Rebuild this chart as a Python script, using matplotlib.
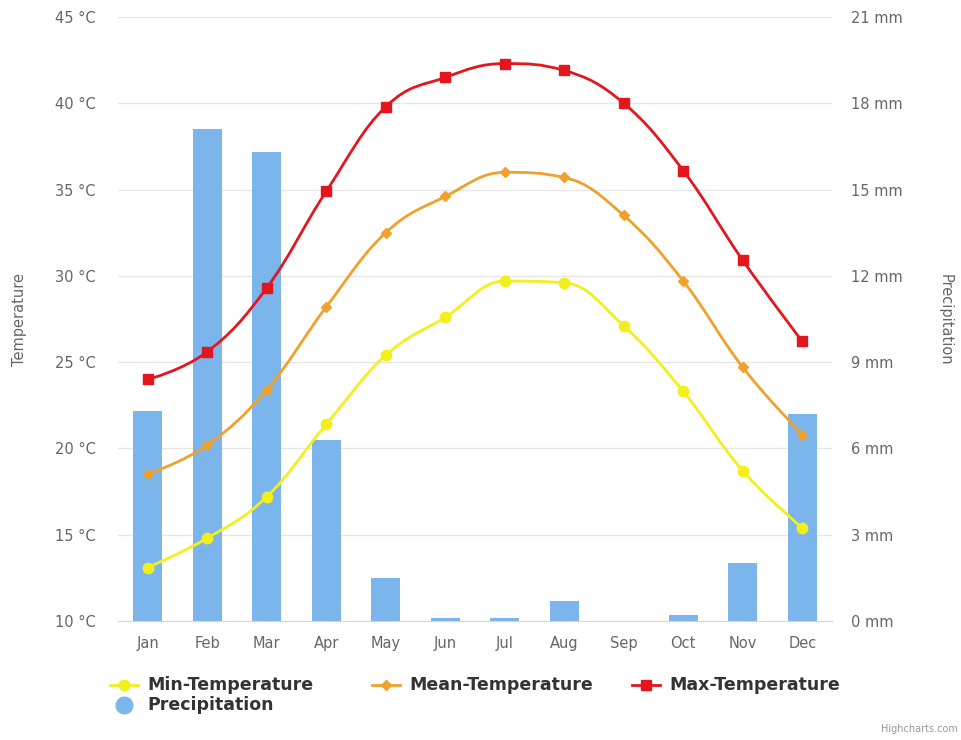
import numpy as np
from matplotlib import pyplot as plt
from matplotlib.path import Path
from matplotlib.patches import PathPatch
from matplotlib.lines import Line2D

months = ['Jan', 'Feb', 'Mar', 'Apr', 'May', 'Jun', 'Jul', 'Aug', 'Sep', 'Oct', 'Nov', 'Dec']
min_temp = [13.1, 14.8, 17.2, 21.4, 25.4, 27.6, 29.7, 29.6, 27.1, 23.3, 18.7, 15.4]
mean_temp = [18.5, 20.2, 23.4, 28.2, 32.5, 34.6, 36.0, 35.7, 33.5, 29.7, 24.7, 20.8]
max_temp = [24.0, 25.6, 29.3, 34.9, 39.8, 41.5, 42.3, 41.9, 40.0, 36.1, 30.9, 26.2]
precip = [7.3, 17.1, 16.3, 6.3, 1.5, 0.1, 0.1, 0.7, 0.0, 0.2, 2.0, 7.2]

temp_ticks = [10, 15, 20, 25, 30, 35, 40, 45]
precip_ticks = [0, 3, 6, 9, 12, 15, 18, 21]

LABEL = '#666666'
W, H = 961, 740


def spline_path(xs, ys, smoothing=1.5):
    # highcharts-style spline drawn with cubic bezier segments
    n = len(xs)
    lc = [None] * n
    rc = [None] * n
    for i in range(1, n - 1):
        px, py = xs[i], ys[i]
        lx, ly = xs[i - 1], ys[i - 1]
        nx, ny = xs[i + 1], ys[i + 1]
        d = smoothing + 1
        lcx = (smoothing * px + lx) / d
        lcy = (smoothing * py + ly) / d
        rcx = (smoothing * px + nx) / d
        rcy = (smoothing * py + ny) / d
        if rcx != lcx:
            corr = ((rcy - lcy) * (rcx - px)) / (rcx - lcx) + py - rcy
            lcy += corr
            rcy += corr
        if lcy > ly and lcy > py:
            lcy = max(ly, py)
            rcy = 2 * py - lcy
        elif lcy < ly and lcy < py:
            lcy = min(ly, py)
            rcy = 2 * py - lcy
        if rcy > ny and rcy > py:
            rcy = max(ny, py)
            lcy = 2 * py - rcy
        elif rcy < ny and rcy < py:
            rcy = min(ny, py)
            lcy = 2 * py - rcy
        lc[i] = (lcx, lcy)
        rc[i] = (rcx, rcy)
    verts = [(xs[0], ys[0])]
    codes = [Path.MOVETO]
    for i in range(1, n):
        c1 = rc[i - 1] if rc[i - 1] is not None else (xs[i - 1], ys[i - 1])
        c2 = lc[i] if lc[i] is not None else (xs[i], ys[i])
        verts += [c1, c2, (xs[i], ys[i])]
        codes += [Path.CURVE4] * 3
    return Path(verts, codes)


fig = plt.figure(figsize=(W / 100, H / 100), dpi=100)
ax = fig.add_axes([118 / W, 1 - 621 / H, 714 / W, 604 / H])
ax2 = ax.twinx()

x = np.arange(len(months))

# precipitation bars on right axis
ax2.bar(x, precip, width=0.49, color='#7cb5ec', zorder=2)
ax2.set_ylim(0, 21)
ax2.set_yticks(precip_ticks)
ax2.set_yticklabels([f'{t} mm' for t in precip_ticks])

# temperature lines on left axis, above the bars
ax.set_zorder(ax2.get_zorder() + 1)
ax.patch.set_visible(False)
ax.set_ylim(10, 45)
ax.set_xlim(-0.5, 11.5)
ax.set_yticks(temp_ticks)
ax.set_yticklabels([f'{t} °C' for t in temp_ticks])
ax.set_xticks(x)
ax.set_xticklabels(months)

for t in temp_ticks[1:]:
    ax2.axhline((t - 10) * 0.6, color='#e6e6e6', lw=1, zorder=0)

MIN_C, MEAN_C, MAX_C, BAR_C = '#f2ef1c', '#efa12b', '#e3161e', '#7cb5ec'
series = [
    (min_temp, MIN_C, 'o', 7.5),
    (mean_temp, MEAN_C, 'D', 5),
    (max_temp, MAX_C, 's', 7.5),
]
for vals, col, mk, ms in series:
    ax.add_patch(PathPatch(spline_path(list(x), vals), fill=False, edgecolor=col, lw=2, zorder=3))
    ax.plot(x, vals, ls='none', marker=mk, ms=ms, color=col, mec=col, zorder=4)

for a in (ax, ax2):
    for s in a.spines.values():
        s.set_visible(False)
    a.tick_params(length=0, colors=LABEL, labelsize=10.5)
ax.spines['bottom'].set_visible(True)
ax.spines['bottom'].set_color('#ccd6eb')
ax.tick_params(axis='y', pad=16)
ax2.tick_params(axis='y', pad=14)
ax.tick_params(axis='x', pad=11)

fig.text(20 / W, 1 - 320 / H, 'Temperature', rotation=90, ha='center', va='center',
         color=LABEL, fontsize=10.5)
fig.text(945 / W, 1 - 320 / H, 'Precipitation', rotation=270, ha='center', va='center',
         color=LABEL, fontsize=10.5)

# legend drawn by hand so the items sit where the reference has them
legend_items = [
    ('Min-Temperature', MIN_C, 'o', 7.5, 2, 110, 685),
    ('Mean-Temperature', MEAN_C, 'D', 5, 2, 372, 685),
    ('Max-Temperature', MAX_C, 's', 7.5, 2, 632, 685),
    ('Precipitation', BAR_C, 'o', 12, 0, 110, 705),
]
for label, col, mk, ms, lw, px, py in legend_items:
    yy = 1 - py / H
    fig.add_artist(Line2D([px / W, (px + 28) / W], [yy, yy], color=col, lw=lw,
                          transform=fig.transFigure))
    fig.add_artist(Line2D([(px + 14) / W], [yy], color=col, marker=mk, ms=ms, lw=0,
                          transform=fig.transFigure))
    fig.text((px + 37) / W, yy, label, ha='left', va='center', fontsize=12.5,
             fontweight='bold', color='#333333')

fig.text(0.997, 0.008, 'Highcharts.com', ha='right', va='bottom', fontsize=7, color='#999999')

plt.savefig('out.png', dpi=100)
